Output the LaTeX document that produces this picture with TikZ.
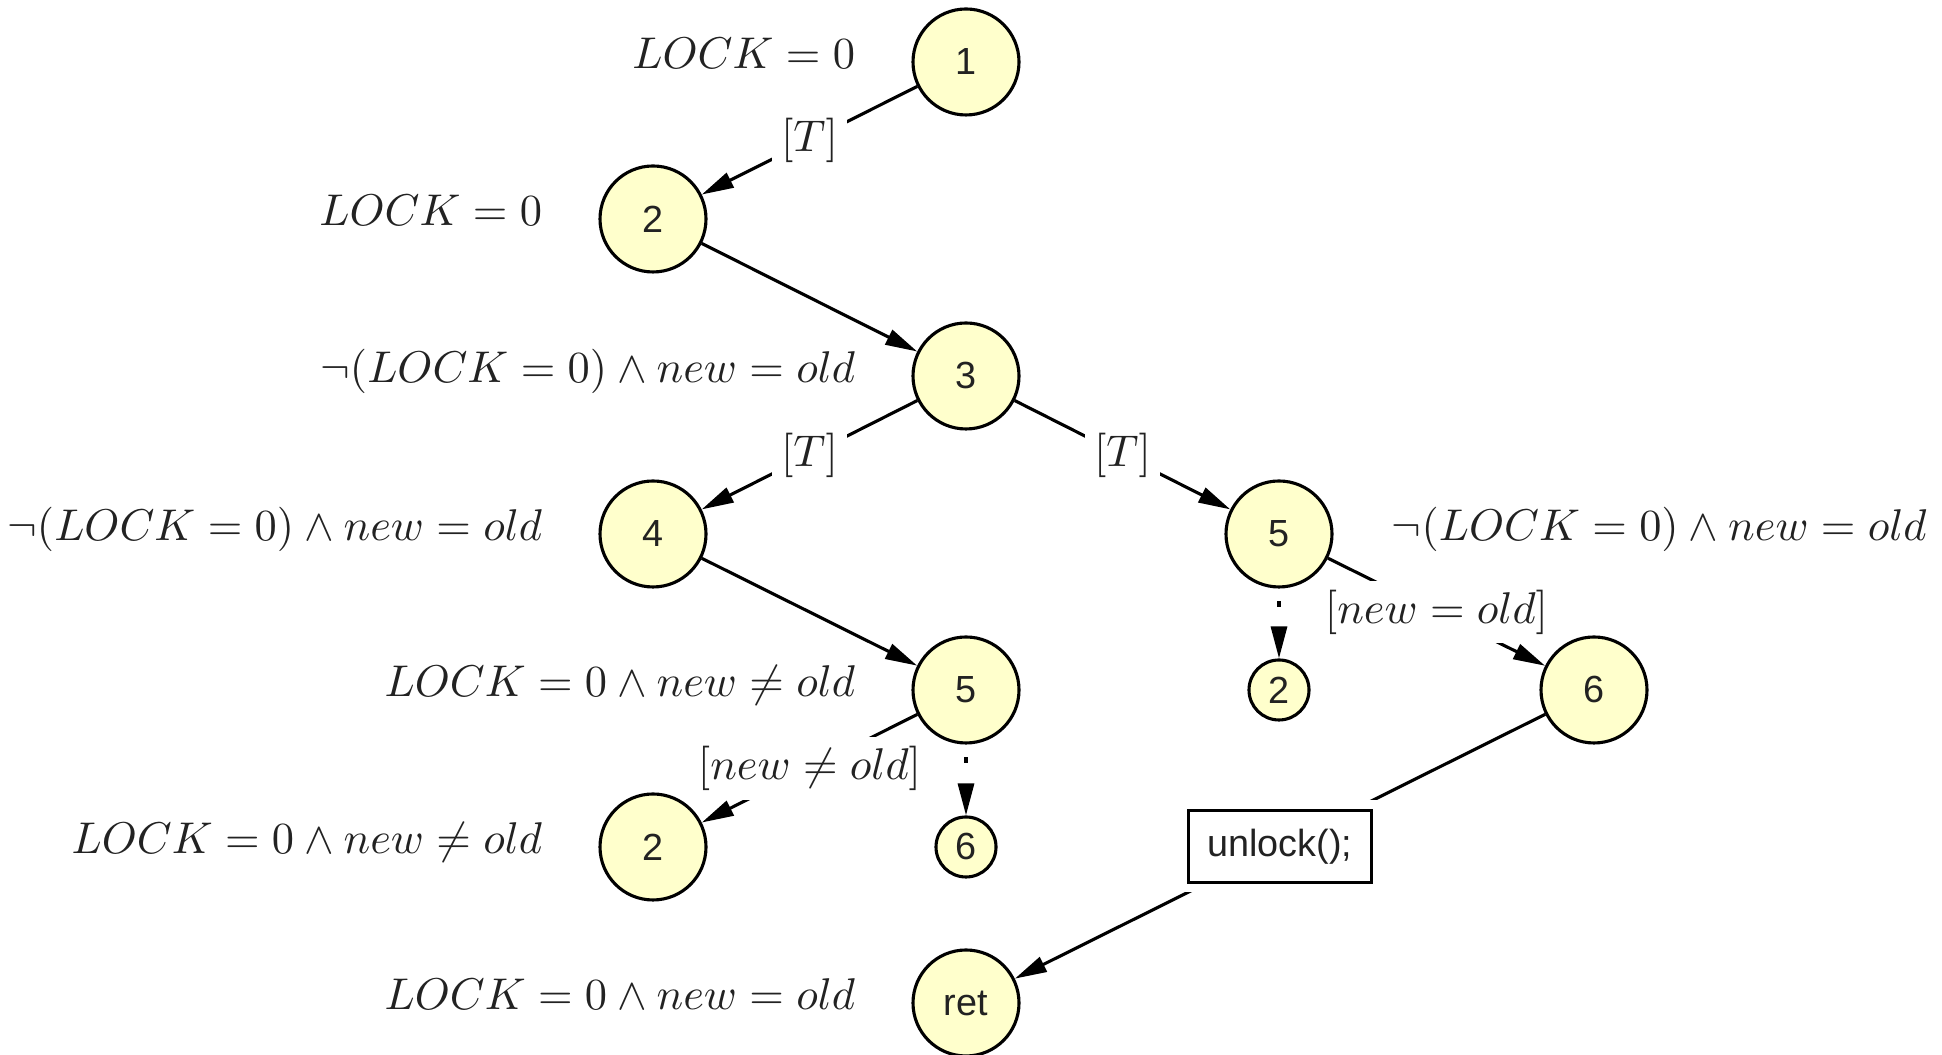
\documentclass[tikz,border=0pt]{standalone}
\usepackage{fontspec}
\setsansfont{Liberation Sans}
\usetikzlibrary{arrows.meta}
\definecolor{nodefill}{RGB}{255,255,204}
\definecolor{ink}{RGB}{34,34,34}
\begin{document}
\begin{tikzpicture}[x=0.225pt,y=-0.225pt,
  state/.style={circle, draw=black, line width=0.7pt, fill=nodefill,
    minimum size=23.85pt, inner sep=0pt, text=ink,
    font=\sffamily\fontsize{8.5}{10}\selectfont},
  smallstate/.style={state, minimum size=13.5pt},
  cond/.style={text=ink, inner sep=0pt, font=\fontsize{9.85}{12}\selectfont},
  condleft/.style={cond, anchor=base east},
  condright/.style={cond, anchor=base west},
  flow/.style={line width=0.7pt, -{Triangle[length=7.2pt,width=3.6pt]}},
  weakflow/.style={flow, dash pattern=on 1.35pt off 6pt, dash phase=4.45pt},
  guard/.style={fill=white, text=ink, inner sep=2pt},
  stmt/.style={draw=black, line width=0.8pt, fill=white,
    preaction={draw=white, line width=4.5pt},
    minimum width=41.2pt, minimum height=16.2pt, inner sep=0pt, text=ink,
    font=\sffamily\fontsize{8.5}{10}\selectfont}
]
\useasboundingbox (0,0) rectangle (1942,1055);

% states of the unfolding
\node[state] (n1)  at (966,62)   {1};
\node[state] (n2a) at (653,219)  {2};
\node[state] (n3)  at (966,376)  {3};
\node[state] (n4)  at (653,534)  {4};
\node[state] (n5a) at (966,690)  {5};
\node[state] (n5b) at (1279,534) {5};
\node[smallstate] (n2b) at (1279,690) {2};
\node[state] (n6a) at (1594,690) {6};
\node[state] (n2c) at (653,847)  {2};
\node[smallstate] (n6b) at (966,847) {6};
\node[state] (ret) at (966,1003) {ret};

% state conditions
\node[condleft]  (c1)  at (856,69)   {$LOCK = 0$};
\node[condleft]  (c2a) at (543,226)  {$LOCK = 0$};
\node[condleft]  (c3)  at (856,383)  {$\neg(LOCK = 0) \wedge new = old$};
\node[condleft]  (c4)  at (543,541)  {$\neg(LOCK = 0) \wedge new = old$};
\node[condright] (c5b) at (1391,541) {$\neg(LOCK = 0) \wedge new = old$};
\node[condleft]  (c5a) at (856,697)  {$LOCK = 0 \wedge new \neq old$};
\node[condleft]  (c2c) at (543,854)  {$LOCK = 0 \wedge new \neq old$};
\node[condleft]  (cr)  at (856,1010) {$LOCK = 0 \wedge new = old$};

% transitions
\draw[flow] (n1) -- node[guard] {$[T]$} (n2a);
\draw[flow] (n2a) -- (n3);
\draw[flow] (n3) -- node[guard] {$[T]$} (n4);
\draw[flow] (n3) -- node[guard] {$[T]$} (n5b);
\draw[flow] (n4) -- (n5a);
\draw[flow] (n5a) -- node[guard] {$[new \neq old]$} (n2c);
\draw[weakflow] (n5a) -- (n6b);
\draw[weakflow] (n5b) -- (n2b);
\draw[flow] (n5b) -- node[guard] {$[new = old]$} (n6a);
\draw[flow] (n6a) -- node[stmt] {unlock();} (ret);
\end{tikzpicture}
\end{document}
